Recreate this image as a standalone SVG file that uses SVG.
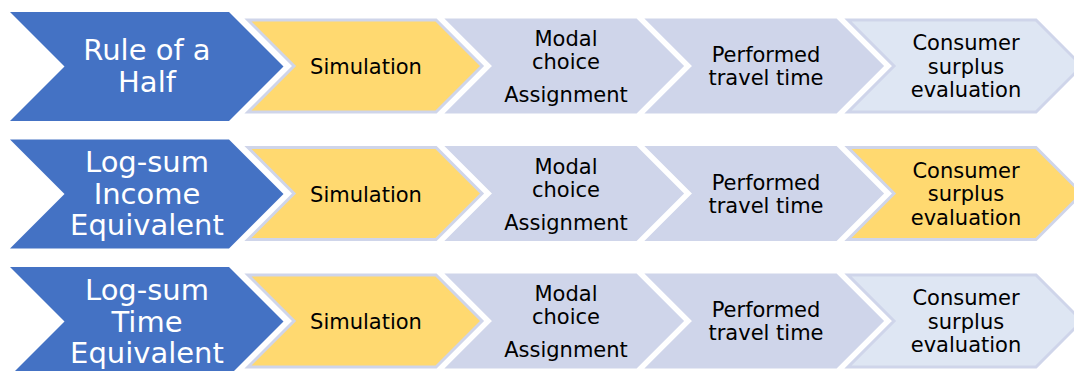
<svg xmlns="http://www.w3.org/2000/svg" width="1074" height="371" viewBox="0 0 1074 371">
  <defs>
    <style>
      .head { fill: #4472C4; }
      .step { stroke: #CFD5EA; stroke-width: 3; stroke-linejoin: miter; }
      .yellow { fill: #FFD970; }
      .lav { fill: #CFD5EA; }
      .light { fill: #DEE6F3; }
      .ht { font-family: "DejaVu Sans", Verdana, sans-serif; font-size: 29px; fill: #FFFFFF; text-anchor: middle; }
      .st { font-family: "DejaVu Sans", Verdana, sans-serif; font-size: 21px; fill: #000000; text-anchor: middle; }
    </style>
    <polygon id="headShape" points="0,0 219,0 273.5,54.5 219,109 0,109 54.5,54.5"/>
    <polygon id="stepShape" points="0,0 188,0 234,46 188,92 0,92 46,46"/>
  </defs>
  <rect x="0" y="0" width="1074" height="371" fill="#FFFFFF"/>

  <!-- Row 1 -->
  <g id="rule-of-a-half" transform="translate(10,12)">
    <use href="#headShape" class="head"/>
    <text class="ht" x="137" y="48">Rule of a</text>
    <text class="ht" x="137" y="80">Half</text>
  </g>
  <g id="r1-simulation" transform="translate(248,20)">
    <use href="#stepShape" class="step yellow"/>
    <text class="st" x="118" y="54">Simulation</text>
  </g>
  <g id="r1-modal" transform="translate(448,20)">
    <use href="#stepShape" class="step lav"/>
    <text class="st" x="118" y="26">Modal</text>
    <text class="st" x="118" y="49">choice</text>
    <text class="st" x="118" y="82">Assignment</text>
  </g>
  <g id="r1-performed" transform="translate(648,20)">
    <use href="#stepShape" class="step lav"/>
    <text class="st" x="118" y="42">Performed</text>
    <text class="st" x="118" y="65">travel time</text>
  </g>
  <g id="r1-consumer" transform="translate(848,20)">
    <use href="#stepShape" class="step light"/>
    <text class="st" x="118" y="30">Consumer</text>
    <text class="st" x="118" y="53.5">surplus</text>
    <text class="st" x="118" y="77">evaluation</text>
  </g>

  <!-- Row 2 -->
  <g id="log-sum-income" transform="translate(10,139.5)">
    <use href="#headShape" class="head"/>
    <text class="ht" x="137" y="32.5">Log-sum</text>
    <text class="ht" x="137" y="64">Income</text>
    <text class="ht" x="137" y="95.5">Equivalent</text>
  </g>
  <g id="r2-simulation" transform="translate(248,147.5)">
    <use href="#stepShape" class="step yellow"/>
    <text class="st" x="118" y="54">Simulation</text>
  </g>
  <g id="r2-modal" transform="translate(448,147.5)">
    <use href="#stepShape" class="step lav"/>
    <text class="st" x="118" y="26">Modal</text>
    <text class="st" x="118" y="49">choice</text>
    <text class="st" x="118" y="82">Assignment</text>
  </g>
  <g id="r2-performed" transform="translate(648,147.5)">
    <use href="#stepShape" class="step lav"/>
    <text class="st" x="118" y="42">Performed</text>
    <text class="st" x="118" y="65">travel time</text>
  </g>
  <g id="r2-consumer" transform="translate(848,147.5)">
    <use href="#stepShape" class="step yellow"/>
    <text class="st" x="118" y="30">Consumer</text>
    <text class="st" x="118" y="53.5">surplus</text>
    <text class="st" x="118" y="77">evaluation</text>
  </g>

  <!-- Row 3 -->
  <g id="log-sum-time" transform="translate(10,267)">
    <use href="#headShape" class="head"/>
    <text class="ht" x="137" y="33">Log-sum</text>
    <text class="ht" x="137" y="64.5">Time</text>
    <text class="ht" x="137" y="96">Equivalent</text>
  </g>
  <g id="r3-simulation" transform="translate(248,275)">
    <use href="#stepShape" class="step yellow"/>
    <text class="st" x="118" y="54">Simulation</text>
  </g>
  <g id="r3-modal" transform="translate(448,275)">
    <use href="#stepShape" class="step lav"/>
    <text class="st" x="118" y="26">Modal</text>
    <text class="st" x="118" y="49">choice</text>
    <text class="st" x="118" y="82">Assignment</text>
  </g>
  <g id="r3-performed" transform="translate(648,275)">
    <use href="#stepShape" class="step lav"/>
    <text class="st" x="118" y="42">Performed</text>
    <text class="st" x="118" y="65">travel time</text>
  </g>
  <g id="r3-consumer" transform="translate(848,275)">
    <use href="#stepShape" class="step light"/>
    <text class="st" x="118" y="30">Consumer</text>
    <text class="st" x="118" y="53.5">surplus</text>
    <text class="st" x="118" y="77">evaluation</text>
  </g>
</svg>
